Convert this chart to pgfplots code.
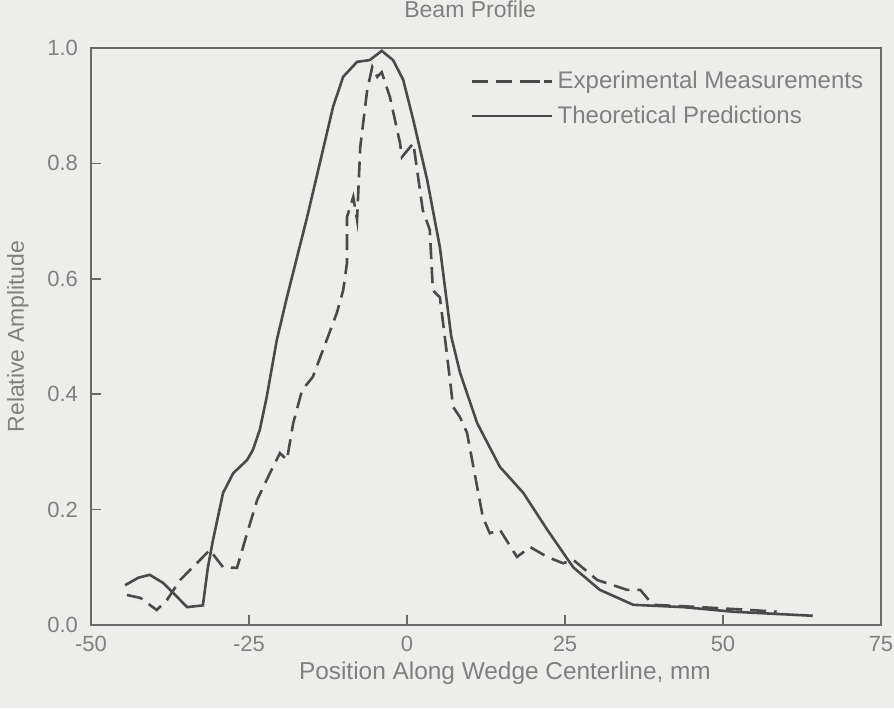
\documentclass[border=0pt]{standalone}
\usepackage{fontspec}
\setmainfont{Liberation Sans}
\usepackage{pgfplots}
\pgfplotsset{compat=1.18}
\definecolor{bg}{HTML}{EDEDEB}
\definecolor{txt}{HTML}{808080}
\definecolor{ln}{HTML}{4A4A4A}
\definecolor{ax}{HTML}{6A6A6A}
\begin{document}
\begin{tikzpicture}
\fill[bg] (-45.5pt,-41.5pt) rectangle (401.5pt,312.5pt);
\begin{axis}[
  at={(0pt,0pt)}, anchor=south west,
  scale only axis, width=395pt, height=288.5pt,
  xmin=-50, xmax=75, ymin=0, ymax=1,
  xtick={-50,-25,0,25,50,75},
  xticklabels={-50,-25,0,25,50,75},
  ytick={0,0.2,0.4,0.6,0.8,1.0},
  yticklabels={0.0,0.2,0.4,0.6,0.8,1.0},
  tick pos=left, tick align=inside, major tick length=5pt,
  tick style={ax, line width=0.8pt},
  axis line style={ax, line width=1pt},
  tick label style={font=\fontsize{11}{13}\selectfont, txt},
  xticklabel style={yshift=-2pt},
  yticklabel style={xshift=-3pt},
  title={Beam Profile},
  title style={at={(axis description cs:0.48,1.047)}, anchor=center, font=\fontsize{11.5}{13}\selectfont, txt},
  xlabel={Position Along Wedge Centerline, mm},
  xlabel style={at={(axis description cs:0.524,-0.083)}, anchor=center, font=\fontsize{12.2}{14}\selectfont, txt},
  ylabel={Relative Amplitude},
  ylabel style={at={(axis description cs:-0.0924,0.5)}, anchor=center, font=\fontsize{11.5}{13}\selectfont, txt},
  legend style={draw=none, fill=none, at={(0.983,0.967)}, anchor=north east,
    font=\fontsize{12}{14}\selectfont, text=txt, row sep=3pt, inner sep=0pt},
  legend cell align=left,
]
\addplot[ln, line width=1.3pt, dash pattern=on 8pt off 4pt,
  legend image code/.code={\draw[ln, line width=1.3pt, dash pattern=on 6pt off 8pt] (0pt,0pt) -- (36pt,0pt); \path (0pt,0pt) -- (40pt,0pt);}] coordinates {
(-44.3,0.052) (-42.2,0.047) (-39.6,0.026) (-38.0,0.043) (-35.9,0.078)
(-33.9,0.10) (-31.2,0.13) (-29.1,0.10) (-26.9,0.099) (-25.3,0.159)
(-23.7,0.217) (-21.7,0.263) (-20.1,0.298) (-19.0,0.286) (-18.0,0.35)
(-16.6,0.407) (-14.9,0.43) (-12.7,0.494) (-11.1,0.541) (-10.1,0.58)
(-9.5,0.627) (-9.5,0.707) (-8.5,0.742) (-7.9,0.702) (-7.4,0.828)
(-6.3,0.927) (-5.5,0.967) (-4.7,0.95) (-4.0,0.958) (-2.7,0.915)
(-1.1,0.835) (-0.8,0.811) (1.0,0.835) (2.5,0.719) (3.6,0.685)
(4.1,0.58) (5.2,0.568) (6.2,0.48) (7.3,0.378) (8.4,0.36)
(9.5,0.333) (12.0,0.187) (13.1,0.159) (14.7,0.165) (17.4,0.118)
(19.5,0.135) (22.2,0.118) (24.7,0.107) (26.3,0.113) (30.1,0.078)
(34.8,0.061) (36.9,0.061) (38.9,0.035) (46.4,0.031) (54.3,0.026)
(58.5,0.023)
};
\addlegendentry{Experimental Measurements}
\addplot[ln, line width=1.3pt,
  legend image code/.code={\draw[ln, line width=1.3pt] (0pt,0pt) -- (36pt,0pt); \path (0pt,0pt) -- (40pt,0pt);}] coordinates {
(-44.6,0.069) (-42.5,0.082) (-40.7,0.087) (-38.6,0.073) (-36.4,0.049)
(-34.8,0.031) (-32.3,0.034) (-31.5,0.10) (-30.7,0.147) (-29.1,0.229)
(-27.5,0.263) (-25.3,0.286) (-24.4,0.303) (-23.3,0.338) (-22.2,0.395)
(-20.6,0.494) (-19.0,0.568) (-15.8,0.707) (-13.8,0.80) (-11.7,0.898)
(-10.1,0.950) (-7.9,0.976) (-5.9,0.979) (-4.0,0.995) (-2.2,0.979)
(-0.6,0.945) (1.0,0.875) (3.2,0.771) (5.2,0.655) (7.0,0.50)
(8.4,0.437) (11.1,0.35) (14.7,0.274) (18.4,0.229) (22.2,0.165)
(26.3,0.10) (30.5,0.061) (35.8,0.035) (43.7,0.031) (51.6,0.023)
(64.2,0.016)
};
\addlegendentry{Theoretical Predictions}
\end{axis}
\pgfresetboundingbox
\path (-45.5pt,-41.5pt) rectangle (401.5pt,312.5pt);
\end{tikzpicture}
\end{document}
